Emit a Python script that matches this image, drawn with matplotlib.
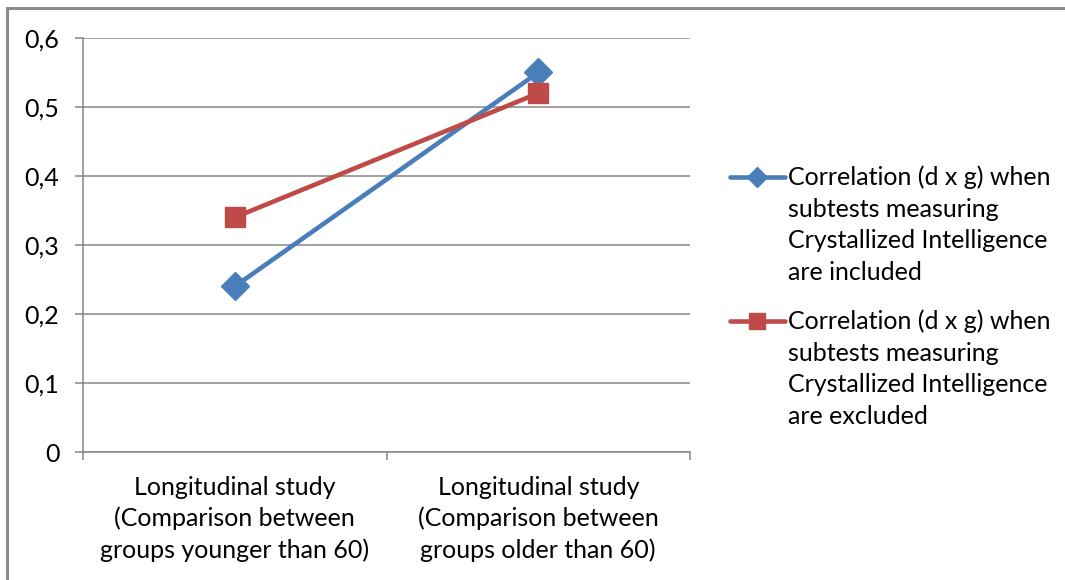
import matplotlib
matplotlib.use("Agg")
import matplotlib.pyplot as plt
from matplotlib.ticker import FixedLocator, FuncFormatter
from matplotlib.lines import Line2D

categories = [
    "Longitudinal study\n(Comparison between\ngroups younger than 60)",
    "Longitudinal study\n(Comparison between\ngroups older than 60)",
]
included = [0.24, 0.55]
excluded = [0.34, 0.52]
series_labels = [
    "Correlation (d x g) when\nsubtests measuring\nCrystallized Intelligence\nare included",
    "Correlation (d x g) when\nsubtests measuring\nCrystallized Intelligence\nare excluded",
]
y_ticks = [0, 0.1, 0.2, 0.3, 0.4, 0.5, 0.6]

BLUE = "#4A7EBB"
RED = "#BE4B48"
GRID = "#868686"
FONT = "Lato"
FS = 18

plt.rcParams["font.family"] = [FONT, "DejaVu Sans"]

W, H = 1065, 580
fig = plt.figure(figsize=(W / 100, H / 100), dpi=100)
ax = fig.add_axes([83 / W, 1 - 452 / H, (690 - 83) / W, (452 - 38) / H])

x = list(range(len(categories)))
styles = [(included, BLUE, "D", 14), (excluded, RED, "s", 14)]
for vals, col, mk, ms in styles:
    ax.plot(x, vals, color=col, lw=3.3, marker=mk, ms=ms,
            markeredgecolor=col, markerfacecolor=col, solid_capstyle="round",
            zorder=3)

ax.set_xlim(-0.5, len(categories) - 0.5)
ax.set_ylim(0, 0.6)

# y axis: gridlines and comma decimal labels
ax.yaxis.set_major_locator(FixedLocator(y_ticks))
ax.yaxis.set_major_formatter(FuncFormatter(
    lambda v, p: "0" if abs(v) < 1e-9 else f"{v:.1f}".replace(".", ",")))
ax.grid(axis="y", color=GRID, lw=1.1)
ax.set_axisbelow(True)
ax.tick_params(axis="y", which="major", length=6, width=1.1, color=GRID,
               direction="out", pad=11, labelsize=FS)

# x axis: boundary ticks between categories, labels centred on categories
ax.xaxis.set_major_locator(FixedLocator([i - 0.5 for i in range(len(categories) + 1)]))
ax.xaxis.set_major_formatter(FuncFormatter(lambda v, p: ""))
ax.xaxis.set_minor_locator(FixedLocator(x))
ax.set_xticklabels(categories, minor=True)
ax.tick_params(axis="x", which="major", length=6, width=1.1, color=GRID, direction="out")
ax.tick_params(axis="x", which="minor", length=0, pad=17, labelsize=FS)
for t in ax.get_xticklabels(minor=True):
    t.set_linespacing(1.42)
    t.set_horizontalalignment("center")

for s in ("top", "right"):
    ax.spines[s].set_visible(False)
for s in ("left", "bottom"):
    ax.spines[s].set_color(GRID)
    ax.spines[s].set_linewidth(1.1)

# legend: handle beside the first line of each multi-line label
legend_rows = [177, 321]
legend_ms = [10, 12]
for (vals, col, mk, ms), row, lms, label in zip(styles, legend_rows, legend_ms, series_labels):
    yf = 1 - row / H
    fig.add_artist(Line2D([730 / W, 785 / W], [yf, yf], color=col, lw=3.3,
                          solid_capstyle="round", transform=fig.transFigure))
    fig.add_artist(Line2D([757 / W], [yf], color=col, marker=mk, ms=lms,
                          markeredgecolor=col, markerfacecolor=col,
                          transform=fig.transFigure))
    fig.text(788 / W, 1 - (row - 12) / H, label, fontsize=FS, va="top", ha="left",
             linespacing=1.47)

# outer frame of the chart area
fig.add_artist(Line2D([7 / W, 1], [1 - 8 / H, 1 - 8 / H], color="#8C8C8C", lw=2.2,
                      transform=fig.transFigure))
fig.add_artist(Line2D([7 / W, 7 / W], [0, 1 - 8 / H], color="#8C8C8C", lw=2.2,
                      transform=fig.transFigure))

fig.savefig("out.png", dpi=100)
